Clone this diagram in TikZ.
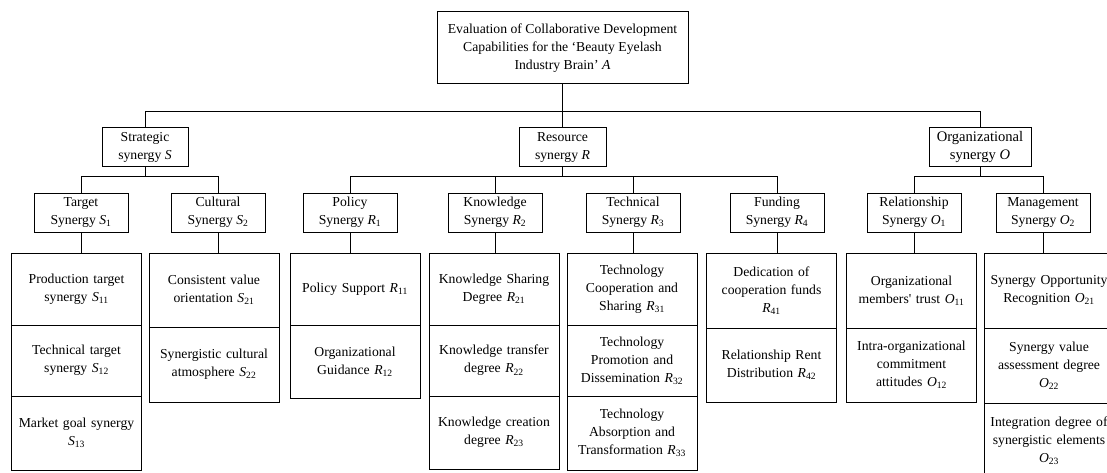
\documentclass[tikz,border=0pt]{standalone}
\usepackage{fontspec}
\setmainfont{Liberation Serif}
\newcommand\vv[2]{\textit{#1}\textsubscript{#2}}
\begin{document}
\begin{tikzpicture}[x=1pt,y=-1pt,line width=1pt,
 box/.style={draw, align=center, inner sep=0pt, minimum height=39pt, font=\fontsize{13.7}{18}\selectfont},
 lvtwo/.style={box, minimum width=94pt},
 cell/.style={draw, align=center, inner xsep=2pt, inner ysep=0pt, text width=126pt, font=\fontsize{13.7}{18}\selectfont},
 link/.style={line width=1pt}]
\useasboundingbox (0,0) rectangle (1107,473);
\clip (0,0) rectangle (1107,473);
\coordinate (bus1) at (0,112);
\coordinate (bus2) at (0,177);
% top
\node[box, minimum width=251pt, minimum height=72pt] (A) at (562.5,48) {Evaluation of Collaborative Development\\Capabilities for the ‘Beauty Eyelash\\Industry Brain’ \textit{A}};
% level 1
\node[box, minimum width=86pt] (S) at (145,147.5) {Strategic\\synergy \textit{S}};
\node[box, minimum width=87pt] (R) at (562.5,147.5) {Resource\\synergy \textit{R}};
\node[box, minimum width=102pt, font=\fontsize{14.6}{18}\selectfont] (O) at (980,147.5) {Organizational\\synergy \textit{O}};
% level 2
\node[lvtwo] (S1) at (81,212.5) {Target\\Synergy \vv{S}{1}};
\node[lvtwo] (S2) at (218,212.5) {Cultural\\Synergy \vv{S}{2}};
\node[lvtwo] (R1) at (350,212.5) {Policy\\Synergy \vv{R}{1}};
\node[lvtwo] (R2) at (495,212.5) {Knowledge\\Synergy \vv{R}{2}};
\node[lvtwo] (R3) at (633,212.5) {Technical\\Synergy \vv{R}{3}};
\node[lvtwo] (R4) at (777,212.5) {Funding\\Synergy \vv{R}{4}};
\node[lvtwo] (O1) at (914,212.5) {Relationship\\Synergy \vv{O}{1}};
\node[lvtwo] (O2) at (1043,212.5) {Management\\Synergy \vv{O}{2}};
% level 3
\node[cell, minimum height=72pt] (S11) at (76.5,289) {Production target\\synergy \vv{S}{11}};
\node[cell, minimum height=71pt] (S12) at (76.5,360.5) {Technical target\\synergy \vv{S}{12}};
\node[cell, minimum height=74pt] (S13) at (76.5,433) {Market goal synergy\\\vv{S}{13}};
\node[cell, minimum height=74pt] (S21) at (214,290) {Consistent value\\orientation \vv{S}{21}};
\node[cell, minimum height=75pt] (S22) at (214,364.5) {Synergistic cultural\\atmosphere \vv{S}{22}};
\node[cell, minimum height=72pt] (R11) at (355,289) {Policy Support \vv{R}{11}};
\node[cell, minimum height=73pt] (R12) at (355,361.5) {Organizational\\Guidance \vv{R}{12}};
\node[cell, minimum height=72pt] (R21) at (494,289) {Knowledge Sharing\\Degree \vv{R}{21}};
\node[cell, minimum height=71pt] (R22) at (494,360.5) {Knowledge transfer\\degree \vv{R}{22}};
\node[cell, minimum height=73pt] (R23) at (494,432.5) {Knowledge creation\\degree \vv{R}{23}};
\node[cell, minimum height=72pt] (R31) at (632,289) {Technology\\Cooperation and\\Sharing \vv{R}{31}};
\node[cell, minimum height=71pt] (R32) at (632,360.5) {Technology\\Promotion and\\Dissemination \vv{R}{32}};
\node[cell, minimum height=74pt] (R33) at (632,433) {Technology\\Absorption and\\Transformation \vv{R}{33}};
\node[cell, minimum height=75pt] (R41) at (771.5,290.5) {Dedication of\\cooperation funds\\\vv{R}{41}};
\node[cell, minimum height=74pt] (R42) at (771.5,365) {Relationship Rent\\Distribution \vv{R}{42}};
\node[cell, minimum height=75pt] (O11) at (911.5,290.5) {Organizational\\members\textquotesingle\ trust \vv{O}{11}};
\node[cell, minimum height=74pt] (O12) at (911.5,365) {Intra-organizational\\commitment\\attitudes \vv{O}{12}};
\node[cell, minimum height=75pt] (O21) at (1049,290.5) {Synergy Opportunity\\Recognition \vv{O}{21}};
\node[cell, minimum height=75pt] (O22) at (1049,365.5) {Synergy value\\assessment degree\\\vv{O}{22}};
\node[cell, minimum height=75pt] (O23) at (1049,440.5) {Integration degree of\\synergistic elements\\\vv{O}{23}};
% connectors
\draw[link] (A.south) -- (R.north);
\draw[link] (S.north) |- (bus1 -| O.north) -- (O.north);
\draw[link] (S.south) -- (S.south |- bus2);
\draw[link] (S1.north) |- (bus2 -| S2.north) -- (S2.north);
\draw[link] (R.south) -- (R.south |- bus2);
\draw[link] (R1.north) |- (bus2 -| R4.north) -- (R4.north);
\draw[link] (R2.north) -- (R2.north |- bus2);
\draw[link] (R3.north) -- (R3.north |- bus2);
\draw[link] (O.south) -- (O.south |- bus2);
\draw[link] (O1.north) |- (bus2 -| O2.north) -- (O2.north);
\foreach \p/\c in {S1/S11,S2/S21,R1/R11,R2/R21,R3/R31,R4/R41,O1/O11,O2/O21}
  \draw[link] (\p.south) -- (\p.south |- \c.north);
\end{tikzpicture}
\end{document}
